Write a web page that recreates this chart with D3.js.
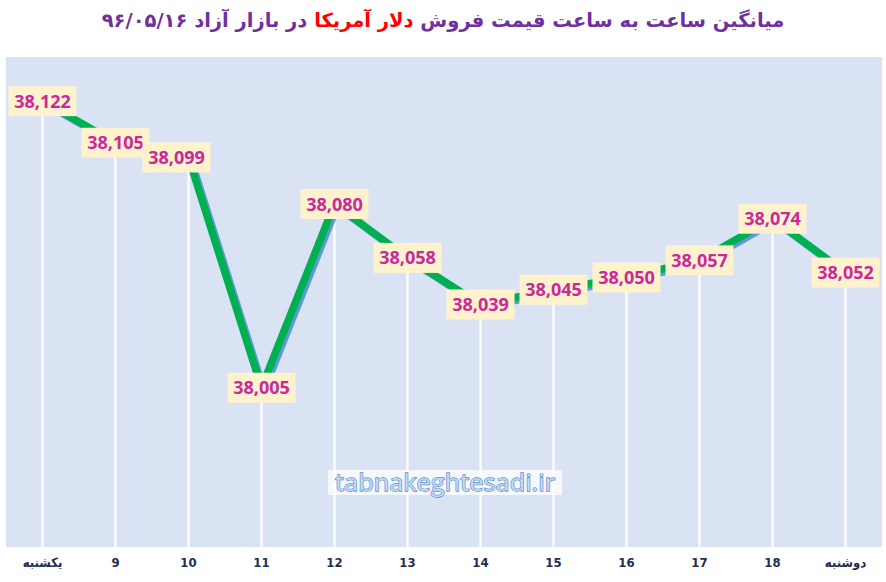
<!DOCTYPE html>
<html><head><meta charset="utf-8">
<script src="https://cdn.jsdelivr.net/npm/d3@7"></script>
<style>
body{margin:0;background:#fff;}
svg{display:block;}
</style></head>
<body>
<svg id="chart" width="886" height="582"></svg>
<script>
const categories = ["یکشنبه","9","10","11","12","13","14","15","16","17","18","دوشنبه"];
const values = [38122,38105,38099,38005,38080,38058,38039,38045,38050,38057,38074,38052];
const yDomain = [37940, 38140];
const titleParts = [
  {t:"میانگین ساعت به ساعت قیمت فروش ", c:"#7030a0"},
  {t:"دلار آمریکا", c:"#ff0000"},
  {t:" در بازار آزاد ۹۶/۰۵/۱۶", c:"#7030a0"}
];
const watermark = "tabnakeghtesadi.ir";

const svg = d3.select("#chart");
const plot = {left:6, right:882, top:57, bottom:547};

const x = d3.scaleBand().domain(categories).range([plot.left, plot.right]).padding(0);
const y = d3.scaleLinear().domain(yDomain).range([plot.bottom, plot.top]);
const data = categories.map((c,i)=>({c, v:values[i], i}));
const cx = d => x(d.c) + x.bandwidth()/2;

// plot background
svg.append("rect").attr("x",plot.left).attr("y",plot.top)
  .attr("width",plot.right-plot.left).attr("height",plot.bottom-plot.top)
  .attr("fill","#dae3f3");

// drop lines
svg.append("g").selectAll("line").data(data).join("line")
  .attr("x1",cx).attr("x2",cx).attr("y1",d=>y(d.v)).attr("y2",plot.bottom)
  .attr("stroke","#ffffff").attr("stroke-width",2.2);

// watermark
const wm = svg.append("g");
wm.append("rect").attr("x",328).attr("y",470).attr("width",234).attr("height",25)
  .attr("fill","#ffffff").attr("opacity",0.75);
wm.append("text").attr("x",445).attr("y",491).attr("text-anchor","middle")
  .attr("font-family","'Open Sans','Noto Sans',sans-serif").attr("font-size",24)
  .attr("textLength",220).attr("lengthAdjust","spacingAndGlyphs")
  .attr("fill","#c6d9f1").attr("stroke","#5b8fd0").attr("stroke-width",1.3)
  .attr("paint-order","stroke").text(watermark);

// line with shadow
const line = d3.line().x(cx).y(d=>y(d.v));
svg.append("path").datum(data).attr("d",line)
  .attr("transform","translate(2.5,2.5)")
  .attr("fill","none").attr("stroke","#5b9bd5").attr("stroke-width",7.5)
  .attr("stroke-linejoin","miter");
svg.append("path").datum(data).attr("d",line)
  .attr("fill","none").attr("stroke","#00b050").attr("stroke-width",7.5)
  .attr("stroke-linejoin","miter");

// data labels (one label nudged left to avoid overlap, as in the original)
const nudge = {2:-12};
const fmt = d3.format(",");
const lbl = svg.append("g").selectAll("g").data(data).join("g")
  .attr("transform",d=>`translate(${cx(d)+(nudge[d.i]||0)},${y(d.v)})`);
lbl.append("rect").attr("x",-34).attr("y",-15).attr("width",68).attr("height",30)
  .attr("fill","#fff2cc");
lbl.append("text").attr("text-anchor","middle").attr("y",6.5)
  .attr("font-family","'Open Sans','Noto Sans',sans-serif").attr("font-weight","bold")
  .attr("font-size",18).attr("fill","#c9299b").text(d=>fmt(d.v));

// x axis
const ax = svg.append("g").attr("transform",`translate(0,${plot.bottom})`)
  .call(d3.axisBottom(x).tickSize(0).tickPadding(11));
ax.select(".domain").remove();
ax.selectAll("text").attr("font-family","'Liberation Sans Narrow','DejaVu Sans Condensed',sans-serif")
  .attr("font-weight","bold").attr("font-size",13).attr("fill","#1f2d54");

// title
const title = svg.append("text").attr("x",443).attr("y",27).attr("text-anchor","middle")
  .attr("direction","rtl").style("unicode-bidi","embed")
  .attr("font-family","'DejaVu Sans',sans-serif").attr("font-weight","bold").attr("font-size",19.5);
title.selectAll("tspan").data(titleParts).join("tspan").attr("fill",d=>d.c).text(d=>d.t);
</script>
</body></html>
